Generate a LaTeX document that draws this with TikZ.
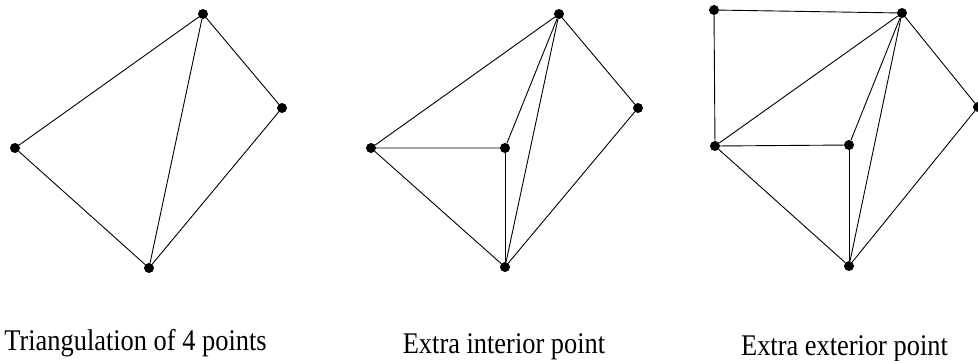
\documentclass[tikz,border=0pt]{standalone}
\usepackage{fontspec}
\setmainfont{Liberation Serif}

\newcommand{\narrowtext}[1]{\scalebox{0.88}[1]{#1}}

\begin{document}
\begin{tikzpicture}[
    x=1pt, y=-1pt,
    dot/.style={circle, fill=black, inner sep=0pt, minimum size=10pt},
    edge/.style={black, line width=0.9pt},
    caption/.style={anchor=base, font=\fontsize{30}{33}\selectfont}
]
    \useasboundingbox (0,0) rectangle (978,360);

    % Triangulation of 4 points
    \node[dot] (a1) at (203, 14)  {};
    \node[dot] (b1) at (282, 108) {};
    \node[dot] (c1) at (15, 148)  {};
    \node[dot] (d1) at (149, 268) {};
    \draw[edge] (c1) -- (a1) -- (b1) -- (d1) -- (c1);
    \draw[edge] (a1) -- (d1);

    % Extra interior point
    \node[dot] (a2) at (559, 14)  {};
    \node[dot] (b2) at (638, 108) {};
    \node[dot] (c2) at (371, 148) {};
    \node[dot] (d2) at (505, 267) {};
    \node[dot] (p2) at (505, 148) {};
    \draw[edge] (c2) -- (a2) -- (b2) -- (d2) -- (c2);
    \draw[edge] (a2) -- (d2);
    \draw[edge] (c2) -- (p2) -- (a2);
    \draw[edge] (p2) -- (d2);

    % Extra exterior point
    \node[dot] (e3) at (714, 10)  {};
    \node[dot] (a3) at (902, 13)  {};
    \node[dot] (b3) at (978, 107) {};
    \node[dot] (c3) at (715, 146) {};
    \node[dot] (d3) at (849, 266) {};
    \node[dot] (p3) at (849, 145) {};
    \draw[edge] (c3) -- (e3) -- (a3);
    \draw[edge] (c3) -- (a3) -- (b3) -- (d3) -- (c3);
    \draw[edge] (a3) -- (d3);
    \draw[edge] (c3) -- (p3) -- (a3);
    \draw[edge] (p3) -- (d3);

    % Captions
    \node[caption] (t1) at (135.5, 350) {\narrowtext{Triangulation of 4 points}};
    \node[caption] (t2) at (504, 353)   {\narrowtext{Extra interior point}};
    \node[caption] (t3) at (844.5, 355) {\narrowtext{Extra exterior point}};
\end{tikzpicture}
\end{document}
